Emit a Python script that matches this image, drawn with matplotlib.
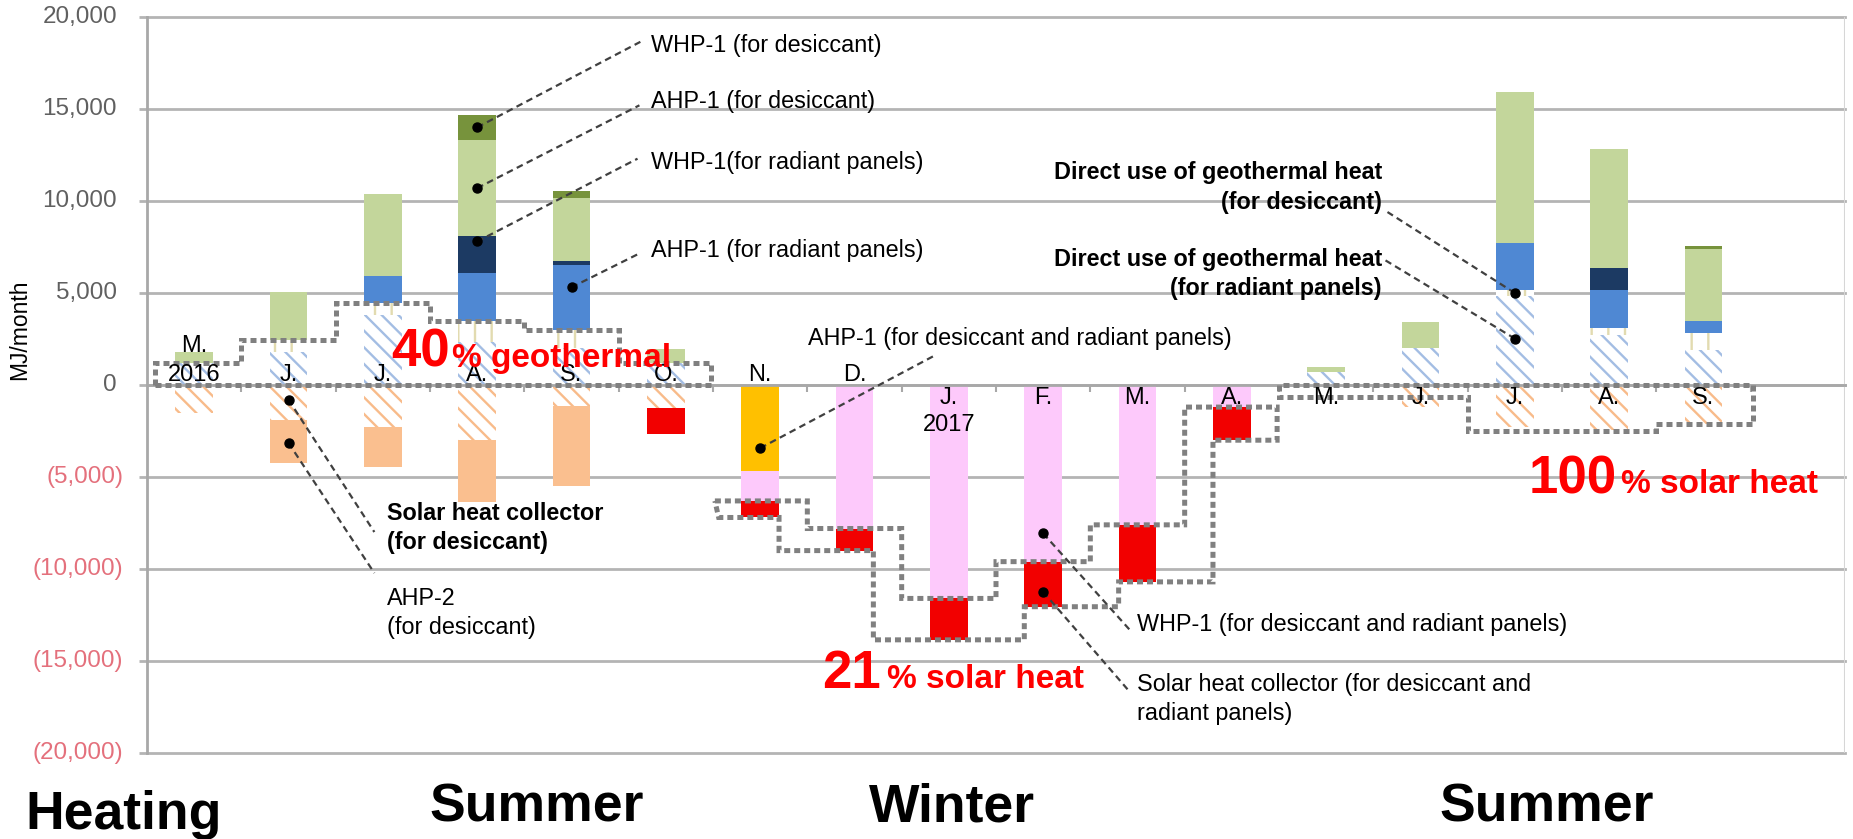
import numpy as np
import matplotlib
matplotlib.use("Agg")
from matplotlib import pyplot as plt

plt.rcParams['font.family'] = ['Liberation Sans', 'DejaVu Sans']
plt.rcParams['hatch.linewidth'] = 1.7

# months May 2016 .. Sep 2017
months = ['M.', 'J.', 'J.', 'A.', 'S.', 'O.', 'N.', 'D.', 'J.', 'F.', 'M.', 'A.', 'M.', 'J.', 'J.', 'A.', 'S.']
years = {0: '2016', 8: '2017'}
label_above = [True] * 8 + [False] * 9

# heat supplied to the building side (MJ/month), stacked upward
direct_rad = [1200, 1800, 3800, 2350, 2000, 1200, 0, 0, 0, 0, 0, 0, 700, 2000, 4850, 2700, 1900]
direct_des = [0, 650, 650, 1150, 1000, 0, 0, 0, 0, 0, 0, 0, 0, 0, 300, 400, 900]
ahp1_rad = [0, 0, 1450, 2600, 3500, 0, 0, 0, 0, 0, 0, 0, 0, 0, 2550, 2050, 700]
whp1_rad = [0, 0, 0, 2000, 250, 0, 0, 0, 0, 0, 0, 0, 0, 0, 0, 1200, 0]
ahp1_des = [600, 2600, 4500, 5200, 3400, 750, 0, 0, 0, 0, 0, 0, 300, 1450, 8200, 6450, 3900]
whp1_des = [0, 0, 0, 1350, 400, 0, 0, 0, 0, 0, 0, 0, 0, 0, 0, 0, 150]

# heating side (MJ/month), stacked downward
solar_des = [1500, 1900, 2300, 3000, 1150, 1250, 0, 0, 0, 0, 0, 0, 0, 1200, 2300, 2450, 2100]
ahp2_des = [0, 2350, 2150, 3350, 4350, 0, 0, 0, 0, 0, 0, 0, 0, 0, 0, 0, 0]
ahp1_both = [0, 0, 0, 0, 0, 0, 4700, 0, 0, 0, 0, 0, 0, 0, 0, 0, 0]
whp1_both = [0, 0, 0, 0, 0, 0, 1600, 7800, 11600, 9600, 7600, 1200, 0, 0, 0, 0, 0]
solar_both = [0, 0, 0, 0, 0, 1400, 900, 1200, 2250, 2450, 3100, 1800, 0, 0, 0, 0, 0]

# edge of the summer 2017 solar block
solar17_edge = [-650, -650, -2500, -2500, -2100]

yticks = list(range(-20000, 20001, 5000))

W, H = 1853, 839
fig = plt.figure(figsize=(W / 100, H / 100), dpi=100)
ax = fig.add_axes([147 / W, 1 - 753 / H, (1845 - 147) / W, (753 - 17) / H])
ax.set_xlim(-0.5, 17.5)
ax.set_ylim(-20000, 20000)

n = len(months)
x = np.arange(n)
bw = 0.4

pos_series = [
    (direct_rad, 'white', '#a3bde3', '\\\\'),
    (direct_des, 'white', '#e2dbb0', '|'),
    (ahp1_rad, '#4f88d3', None, None),
    (whp1_rad, '#1c3a63', None, None),
    (ahp1_des, '#c3d69b', None, None),
    (whp1_des, '#77933c', None, None),
]
neg_series = [
    (solar_des, 'white', '#f8bb8a', '\\\\'),
    (ahp2_des, '#fabf8f', None, None),
    (ahp1_both, '#ffc000', None, None),
    (whp1_both, '#fdc9fb', None, None),
    (solar_both, '#f20000', None, None),
]

# segment bounds, used later for the pointer dots
seg = {}


def draw_stack(series, sign):
    base = np.zeros(n)
    for vals, fc, hc, hatch in series:
        v = np.array(vals, float) * sign
        if hatch:
            ax.bar(x, v, bw, bottom=base, color=fc, edgecolor=hc, linewidth=0,
                   hatch=hatch, zorder=2)
        else:
            ax.bar(x, v, bw, bottom=base, color=fc, linewidth=0, zorder=2)
        seg[id(vals)] = (base.copy(), base + v)
        base = base + v
    return base


draw_stack(pos_series, 1)
draw_stack(neg_series, -1)


def seg_point(vals, i, frac):
    lo, hi = seg[id(vals)]
    return lo[i] + (hi[i] - lo[i]) * frac


# grid, axes
for v in yticks:
    ax.axhline(v, color='#b4b4b4', lw=2, zorder=0, clip_on=False)
for s in ['top', 'right']:
    ax.spines[s].set_visible(False)
ax.spines['left'].set_color('#a8a8a8')
ax.spines['left'].set_linewidth(2)
ax.spines['bottom'].set_position(('data', 0))
ax.spines['bottom'].set_color('#a8a8a8')
ax.spines['bottom'].set_linewidth(2)
ax.axvline(17.5, color='#d6d6d6', lw=1.5, zorder=0)
ax.set_yticks(yticks)
ax.tick_params(axis='y', length=6, width=2, color='#b4b4b4', labelleft=False)
ax.set_xticks(np.arange(0.5, n, 1))
ax.tick_params(axis='x', length=5, width=1.5, color='#a8a8a8', labelbottom=False)

for v in yticks:
    if v >= 0:
        ax.text(-0.0177, v, f'{v:,}', transform=ax.get_yaxis_transform(),
                ha='right', va='center', fontsize=17.5, color='#606060')
    else:
        ax.text(-0.0141, v, f'({-v:,})', transform=ax.get_yaxis_transform(),
                ha='right', va='center', fontsize=17.5, color='#e4707c')

fig.text(20 / W, 1 - 330 / H, 'MJ/month', rotation=90, ha='center', va='center',
         fontsize=16.5)

# month labels next to the zero line
for i, m in enumerate(months):
    if label_above[i]:
        if i in years:
            ax.annotate(years[i], (i, 0), xytext=(0, 3.2), textcoords='offset points',
                        ha='center', va='baseline', fontsize=17, zorder=7)
            ax.annotate(m, (i, 0), xytext=(0, 24), textcoords='offset points',
                        ha='center', va='baseline', fontsize=17, zorder=7)
        else:
            ax.annotate(m, (i, 0), xytext=(0, 3.2), textcoords='offset points',
                        ha='center', va='baseline', fontsize=17, zorder=7)
    else:
        ax.annotate(m, (i, 0), xytext=(0, -14), textcoords='offset points',
                    ha='center', va='baseline', fontsize=17, zorder=7)
        if i in years:
            ax.annotate(years[i], (i, 0), xytext=(0, -32.8), textcoords='offset points',
                        ha='center', va='baseline', fontsize=17, zorder=7)

# dotted outlines
dot_style = dict(color='#808080', lw=3.6, ls=(0, (1.2, 0.8)), zorder=4,
                 dash_joinstyle='miter', clip_on=False)


def step_outline(idx, levels, x_start, x_end):
    xs, ys = [x_start], [0]
    for k, (i, lv) in enumerate(zip(idx, levels)):
        left = x_start if k == 0 else i - 0.5
        right = x_end if k == len(idx) - 1 else i + 0.5
        xs += [left, right]
        ys += [lv, lv]
    xs += [x_end, x_start]
    ys += [0, 0]
    ax.plot(xs, ys, **dot_style)


geo_idx = list(range(0, 6))
step_outline(geo_idx, [direct_rad[i] + direct_des[i] for i in geo_idx], -0.41, 5.48)
step_outline(list(range(12, 17)), solar17_edge, 11.5, 16.53)

# winter block: band around the solar collector part
win = list(range(6, 12))
tops = [-(solar_des[i] + ahp2_des[i] + ahp1_both[i] + whp1_both[i]) for i in win]
bots = [t - solar_both[i] for t, i in zip(tops, win)]
xs, ys = [], []
for k, i in enumerate(win):
    left = 5.52 if k == 0 else i - 0.5
    right = 11.48 if k == len(win) - 1 else i + 0.5
    xs += [left, right]
    ys += [tops[k], tops[k]]
lower_x = []
for k in range(len(win) - 1):
    b = win[k] + 0.5
    lower_x.append(b + 0.3 if bots[k] < bots[k + 1] else b - 0.3)
edges = [5.56] + lower_x + [11.48]
for k in range(len(win) - 1, -1, -1):
    xs += [edges[k + 1], edges[k]]
    ys += [bots[k], bots[k]]
xs.append(xs[0])
ys.append(ys[0])
ax.plot(xs, ys, **dot_style)

# pointer labels
lead = dict(color='#404040', lw=1.6, ls=(0, (3, 2)), zorder=5)


def pointer(px, py, ex, ey, tx, ty, text, ha='left', weight='normal'):
    ax.plot([px, ex], [py, ey], **lead)
    ax.plot(px, py, 'o', color='black', ms=6.5, zorder=6)
    ax.text(tx, ty, text, ha=ha, va='center', fontsize=16.8, weight=weight,
            linespacing=1.35, multialignment=ha, zorder=7)


pointer(3, seg_point(whp1_des, 3, 0.52), 4.73, 18650, 4.84, 18450, 'WHP-1 (for desiccant)')
pointer(3, seg_point(ahp1_des, 3, 0.5), 4.72, 15200, 4.84, 15400, 'AHP-1 (for desiccant)')
pointer(3, seg_point(whp1_rad, 3, 0.85), 4.7, 12300, 4.84, 12100, 'WHP-1(for radiant panels)')
pointer(4, seg_point(ahp1_rad, 4, 0.66), 4.7, 7100, 4.84, 7300, 'AHP-1 (for radiant panels)')
pointer(6, seg_point(ahp1_both, 6, 0.73), 7.86, 1630, 6.51, 2550,
        'AHP-1 (for desiccant and radiant panels)')
pointer(1, seg_point(solar_des, 1, 0.42), 1.91, -7990, 2.04, -7780,
        'Solar heat collector\n(for desiccant)', weight='bold')
pointer(1, seg_point(ahp2_des, 1, 0.53), 1.91, -10220, 2.04, -12400, 'AHP-2\n(for desiccant)')
pointer(9, seg_point(whp1_both, 9, 0.84), 9.92, -13320, 9.995, -13040,
        'WHP-1 (for desiccant and radiant panels)')
pointer(9, seg_point(solar_both, 9, 0.67), 9.92, -16690, 9.995, -17070,
        'Solar heat collector (for desiccant and\nradiant panels)')
pointer(14, seg_point(direct_des, 14, 0.5), 12.65, 9400, 12.59, 10730,
        'Direct use of geothermal heat\n(for desiccant)', ha='right', weight='bold')
pointer(14, seg_point(direct_rad, 14, 0.52), 12.62, 6800, 12.59, 6030,
        'Direct use of geothermal heat\n(for radiant panels)', ha='right', weight='bold')

# share labels
red = '#ff0000'
for xr, xl, yb, big, small in [(2.712, 2.733, 980, '40', '% geothermal'),
                               (7.281, 7.345, -16470, '21', '% solar heat'),
                               (15.08, 15.126, -5870, '100', '% solar heat')]:
    ax.text(xr, yb, big, ha='right', va='baseline', fontsize=38, weight='bold',
            color=red, zorder=8)
    ax.text(xl, yb, small, ha='left', va='baseline', fontsize=24, weight='bold',
            color=red, zorder=8)

# season captions
fig.text(25 / W, 1 - 829 / H, 'Heating', ha='left', va='baseline', fontsize=38.5, weight='bold')
for cx, name in [(536.5, 'Summer'), (951.5, 'Winter'), (1547, 'Summer')]:
    fig.text(cx / W, 1 - 822 / H, name, ha='center', va='baseline', fontsize=38.5,
             weight='bold')

fig.savefig('out.png', dpi=100)
